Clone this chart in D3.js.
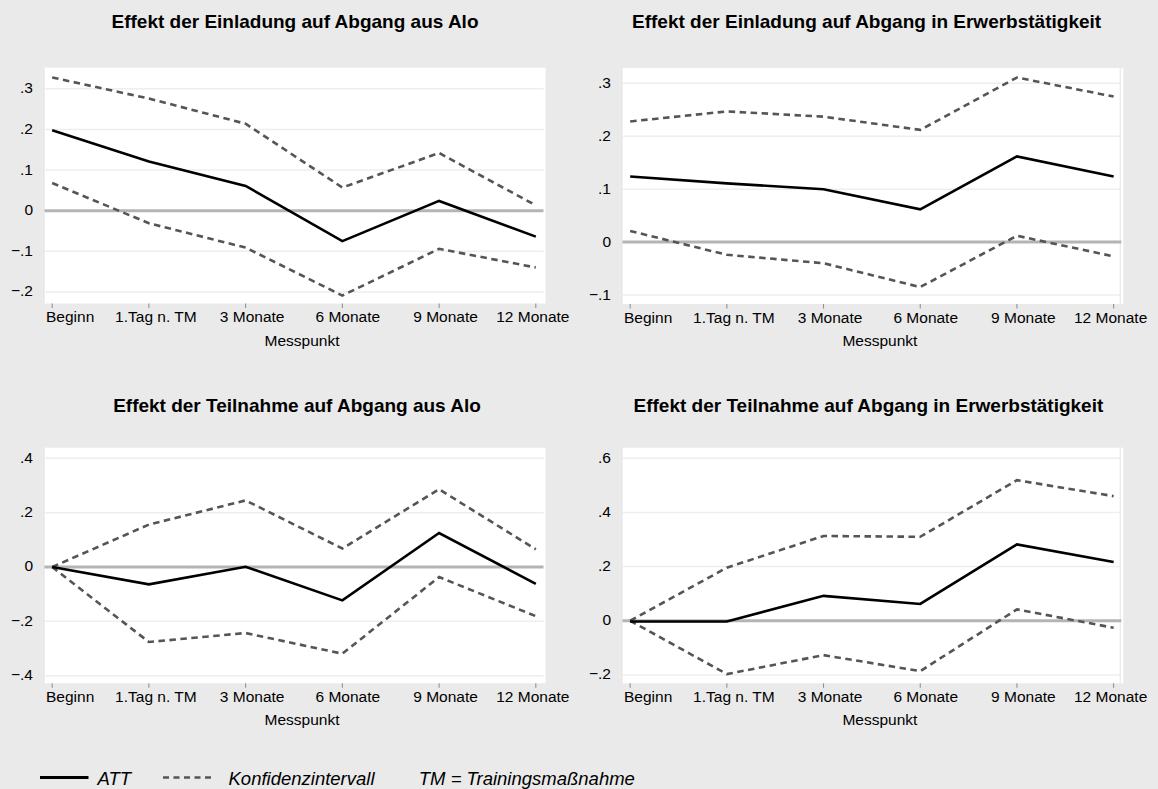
<!DOCTYPE html>
<html lang="de">
<head>
    <meta charset="UTF-8">
    <title>Effekte der Einladung und Teilnahme</title>
    <script src="https://d3js.org/d3.v7.min.js"></script>
    <style>
        body {
            margin: 0;
            padding: 0;
            background-color: #eaeaea;
            font-family: 'Liberation Sans', Arial, Helvetica, sans-serif;
        }

        #chart {
            display: block;
        }

        .title {
            font-size: 19px;
            font-weight: bold;
            fill: #000;
        }

        .tick-label, .axis-title {
            font-size: 15.5px;
            fill: #000;
        }

        .legend-text {
            font-size: 18.5px;
            font-style: italic;
            fill: #000;
        }
    </style>
</head>
<body>
    <svg id="chart" width="1158" height="789"></svg>

    <script>
        // Messpunkte (x categories)
        const messpunkte = ["Beginn", "1.Tag n. TM", "3 Monate", "6 Monate", "9 Monate", "12 Monate"];

        // Effekt der Einladung auf Abgang aus Alo
        const attEinlAlo  = [0.198, 0.121, 0.061, -0.075, 0.024, -0.064];
        const hiEinlAlo   = [0.328, 0.276, 0.214, 0.057, 0.142, 0.013];
        const loEinlAlo   = [0.068, -0.031, -0.091, -0.209, -0.094, -0.140];
        const yTicksEinlAlo = [-0.2, -0.1, 0, 0.1, 0.2, 0.3];

        // Effekt der Einladung auf Abgang in Erwerbstaetigkeit
        const attEinlErw  = [0.124, 0.111, 0.100, 0.062, 0.162, 0.124];
        const hiEinlErw   = [0.228, 0.247, 0.237, 0.212, 0.311, 0.275];
        const loEinlErw   = [0.021, -0.024, -0.040, -0.085, 0.012, -0.027];
        const yTicksEinlErw = [-0.1, 0, 0.1, 0.2, 0.3];

        // Effekt der Teilnahme auf Abgang aus Alo
        const attTeilAlo  = [0, -0.064, 0.001, -0.123, 0.125, -0.062];
        const hiTeilAlo   = [0, 0.156, 0.245, 0.068, 0.286, 0.065];
        const loTeilAlo   = [0, -0.276, -0.243, -0.319, -0.037, -0.181];
        const yTicksTeilAlo = [-0.4, -0.2, 0, 0.2, 0.4];

        // Effekt der Teilnahme auf Abgang in Erwerbstaetigkeit
        const attTeilErw  = [-0.003, -0.003, 0.092, 0.062, 0.282, 0.217];
        const hiTeilErw   = [0, 0.196, 0.313, 0.310, 0.519, 0.460];
        const loTeilErw   = [0, -0.197, -0.127, -0.186, 0.042, -0.026];
        const yTicksTeilErw = [-0.2, 0, 0.2, 0.4, 0.6];

        // layout of the four panels (pixels)
        const panels = [
            { title: "Effekt der Einladung auf Abgang aus Alo", titleX: 295, titleY: 27.7,
              left: 42.5, right: 545.5, top: 67.7, bottom: 303.5, yDomain: [-0.2286, 0.352],
              att: attEinlAlo, hi: hiEinlAlo, lo: loEinlAlo, yTicks: yTicksEinlAlo, rightLine: false },
            { title: "Effekt der Einladung auf Abgang in Erwerbstätigkeit", titleX: 866.6, titleY: 27.7,
              left: 620.5, right: 1123.3, top: 68, bottom: 304, yDomain: [-0.117, 0.329],
              att: attEinlErw, hi: hiEinlErw, lo: loEinlErw, yTicks: yTicksEinlErw, rightLine: true },
            { title: "Effekt der Teilnahme auf Abgang aus Alo", titleX: 297, titleY: 411.7,
              left: 42.5, right: 545.5, top: 447.7, bottom: 683.3, yDomain: [-0.428, 0.439],
              att: attTeilAlo, hi: hiTeilAlo, lo: loTeilAlo, yTicks: yTicksTeilAlo, rightLine: false },
            { title: "Effekt der Teilnahme auf Abgang in Erwerbstätigkeit", titleX: 868.4, titleY: 411.7,
              left: 620.5, right: 1123.3, top: 447.7, bottom: 683.3, yDomain: [-0.231, 0.639],
              att: attTeilErw, hi: hiTeilErw, lo: loTeilErw, yTicks: yTicksTeilErw, rightLine: true }
        ];

        // horizontal nudge of the x labels relative to their ticks, as in the original
        const labelShift = [18, 7, 6.5, 5.5, 6.5, -3];

        const svg = d3.select("#chart");

        const fmtY = function(v) {
            if (v === 0) return "0";
            return d3.format(".1f")(v).replace("0.", ".");
        };

        panels.forEach(function(p) {
            const g = svg.append("g");

            const x = d3.scalePoint()
                        .domain(messpunkte)
                        .range([p.left, p.right])
                        .padding(0.1);
            const y = d3.scaleLinear()
                        .domain(p.yDomain)
                        .range([p.bottom, p.top]);

            // white plot region
            g.append("rect")
             .attr("x", p.left)
             .attr("y", p.top)
             .attr("width", p.right - p.left)
             .attr("height", p.bottom - p.top)
             .attr("fill", "#ffffff");

            // faint y axis line
            g.append("line")
             .attr("x1", p.left + 1).attr("x2", p.left + 1)
             .attr("y1", p.top).attr("y2", p.bottom)
             .attr("stroke", "#e4e4e4").attr("stroke-width", 2);

            if (p.rightLine) {
                g.append("line")
                 .attr("x1", p.right - 3).attr("x2", p.right - 3)
                 .attr("y1", p.top).attr("y2", p.bottom)
                 .attr("stroke", "#ececec").attr("stroke-width", 1.5);
            }

            // gridlines
            g.selectAll(".grid")
             .data(p.yTicks.filter(d => d !== 0))
             .enter().append("line")
             .attr("class", "grid")
             .attr("x1", p.left + 2).attr("x2", p.right - 2)
             .attr("y1", d => y(d)).attr("y2", d => y(d))
             .attr("stroke", "#eeeeee").attr("stroke-width", 1.5);

            // zero line
            g.append("line")
             .attr("x1", p.left + 2).attr("x2", p.right - 2)
             .attr("y1", y(0)).attr("y2", y(0))
             .attr("stroke", "#b4b4b4").attr("stroke-width", 3);

            // y tick labels
            g.selectAll(".ylab")
             .data(p.yTicks)
             .enter().append("text")
             .attr("class", "tick-label")
             .attr("x", p.left - 9.5)
             .attr("y", d => y(d) + 4.5)
             .attr("text-anchor", "end")
             .text(fmtY);

            // x ticks
            g.selectAll(".xtick")
             .data(messpunkte)
             .enter().append("line")
             .attr("x1", d => x(d)).attr("x2", d => x(d))
             .attr("y1", p.bottom).attr("y2", p.bottom + 4.5)
             .attr("stroke", "#8a8a8a").attr("stroke-width", 1);

            // x tick labels
            g.selectAll(".xlab")
             .data(messpunkte)
             .enter().append("text")
             .attr("class", "tick-label")
             .attr("x", (d, i) => x(d) + labelShift[i])
             .attr("y", p.bottom + 18.5)
             .attr("text-anchor", "middle")
             .text(d => d);

            // axis title
            g.append("text")
             .attr("class", "axis-title")
             .attr("x", (p.left + p.right) / 2 + 8)
             .attr("y", p.bottom + 42)
             .attr("text-anchor", "middle")
             .text("Messpunkt");

            // panel title
            g.append("text")
             .attr("class", "title")
             .attr("x", p.titleX)
             .attr("y", p.titleY)
             .attr("text-anchor", "middle")
             .text(p.title);

            const line = d3.line()
                           .x((d, i) => x(messpunkte[i]))
                           .y(d => y(d));

            [p.hi, p.lo].forEach(function(series) {
                g.append("path")
                 .attr("d", line(series))
                 .attr("fill", "none")
                 .attr("stroke", "#555555")
                 .attr("stroke-width", 2.6)
                 .attr("stroke-dasharray", "6.5,4.5");
            });

            g.append("path")
             .attr("d", line(p.att))
             .attr("fill", "none")
             .attr("stroke", "#000000")
             .attr("stroke-width", 2.6);
        });

        // legend
        const legend = svg.append("g");
        legend.append("line")
              .attr("x1", 40).attr("x2", 88.5)
              .attr("y1", 777.5).attr("y2", 777.5)
              .attr("stroke", "#000").attr("stroke-width", 2.8);
        legend.append("text")
              .attr("class", "legend-text")
              .attr("x", 97.5).attr("y", 785)
              .text("ATT");
        legend.append("line")
              .attr("x1", 163).attr("x2", 211)
              .attr("y1", 777.5).attr("y2", 777.5)
              .attr("stroke", "#555555").attr("stroke-width", 2.6)
              .attr("stroke-dasharray", "6,4.5");
        legend.append("text")
              .attr("class", "legend-text")
              .attr("x", 228.5).attr("y", 785)
              .text("Konfidenzintervall");
        legend.append("text")
              .attr("class", "legend-text")
              .attr("x", 418.8).attr("y", 785)
              .text("TM = Trainingsmaßnahme");
    </script>
</body>
</html>
